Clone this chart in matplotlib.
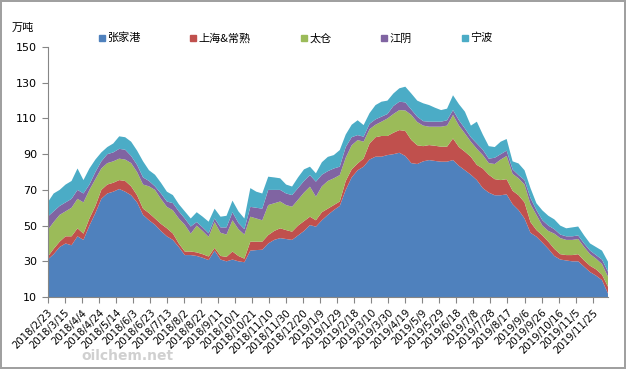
import numpy as np
import pandas as pd
import matplotlib
matplotlib.use('Agg')
import matplotlib.pyplot as plt
from matplotlib.lines import Line2D

plt.rcParams['font.family'] = ['DejaVu Sans', 'Noto Sans CJK SC']

# weekly inventory (万吨), 2018/2/23 .. 2019/12/13
dates = pd.date_range('2018-02-23', periods=95, freq='7D')

zhangjiagang = [31, 34, 38, 40, 39, 44, 42, 50, 57, 65,
                68, 69, 70.5, 69, 67, 63, 56, 53, 50.5, 47,
                44, 42, 38, 33.5, 33.5, 33, 32, 30.7, 36, 31,
                30, 31, 30, 29.5, 36, 36.3, 36.5, 40, 42, 43,
                42.5, 42, 44.5, 47, 50.3, 49.4, 53, 56, 58.7, 61,
                70, 77, 81, 83, 87, 88.6, 88.6, 89.5, 90, 90.8,
                89, 85, 84.5, 86, 86.7, 86.2, 85.8, 85.8, 86.7, 83.5,
                81, 78.5, 75.5, 71, 68.5, 67, 67, 67.5, 62, 58.7,
                54, 46, 43.8, 40.5, 37, 33, 31, 30.5, 30, 30,
                27, 24, 22, 19.5, 12]
shanghai = [1.5, 3, 3, 4, 5, 4.5, 3.5, 4, 4, 5,
            5, 5, 5, 6, 5, 4, 3.5, 4, 3.5, 4,
            4.5, 3.6, 2, 2, 2, 2, 2, 2, 1.5, 2,
            2.5, 4.5, 3, 2, 5, 4.7, 4.5, 4.7, 5, 5.5,
            5, 4.6, 5.5, 5.5, 4.7, 3.6, 4.5, 3.5, 2.8, 2.5,
            5, 4.5, 3.8, 4.6, 9, 10.9, 11.6, 10.7, 12, 12.7,
            14, 13, 10.5, 8.5, 8.4, 8.5, 8.4, 8.4, 12.1, 10.5,
            10.4, 10, 8.5, 11, 10, 9, 8.5, 8.5, 7.5, 8.3,
            9, 6, 3.7, 4, 4, 4, 3, 3, 3.5, 4,
            3.5, 3.5, 3.5, 3, 3.8]
taicang = [15, 15, 15, 14, 16, 16.5, 17.5, 16, 15, 12,
           12, 12, 12, 12, 13, 13, 13.5, 15, 16, 14,
           12, 13, 14, 15, 10, 15, 13, 11, 14.5, 13,
           12.5, 17.5, 15, 13.5, 14, 13, 12, 16.8, 15.5, 15,
           14, 14, 14.5, 16, 16.8, 13.2, 14.5, 15.5, 15, 14.8,
           13, 13.5, 13.1, 9.4, 8, 7, 8, 9.8, 10.5, 11.2,
           11.5, 14, 13, 11.5, 10.3, 10.7, 11.2, 11.8, 13.2, 12,
           10.2, 8.5, 9, 7.5, 6.5, 8.5, 11.5, 13, 9.5, 9.5,
           10, 10, 8.5, 5.5, 6, 8.5, 9, 8.5, 8.5, 8.5,
           7.5, 6.5, 6, 6, 5.6]
jiangyin = [7.5, 6, 5, 5, 5, 5, 5, 3, 4, 4,
            5, 5, 5.5, 5.5, 4, 4, 4, 3, 2, 3,
            3, 4, 4, 3.5, 4, 2, 2, 2, 2, 3,
            4, 4.5, 3.5, 3, 5.5, 6, 6.5, 8.5, 7.5, 6.5,
            6.5, 6.5, 6.5, 6.5, 6.5, 8.4, 6.5, 5.5, 5.5, 4.7,
            6, 4.5, 2.8, 2.8, 3, 3, 2.8, 2.5, 4.5, 4.7,
            4.5, 3, 3, 2.5, 2.8, 2.8, 2.8, 3, 2.7, 3,
            2.8, 2.5, 3, 3, 2.5, 3.5, 3, 3, 2.5, 1.8,
            2.5, 3.5, 2.7, 3, 3, 2.5, 2, 2, 2, 2,
            2, 2, 2, 2.5, 2.8]
ningbo = [8, 10, 9, 10, 10, 12, 7.5, 9, 7, 5,
          4, 5, 7, 7, 8, 8, 9, 6, 6.5, 6,
          5.5, 4.5, 4, 4, 4.5, 5.5, 6, 6.5, 5.5, 6,
          6.5, 6.5, 6.5, 6, 10.5, 9, 8.5, 7.4, 7, 6.5,
          5, 4.8, 6, 6.5, 4.7, 4.7, 7, 8, 7.5, 9.3,
          7, 7, 8.3, 6.5, 6, 8, 8.4, 7.5, 7, 7.5,
          8.8, 9, 9, 10, 9.3, 7.8, 6.5, 6.5, 8.3, 9,
          9.4, 6.5, 12.2, 8.5, 7, 6, 7, 6.5, 4.5, 6.5,
          5.5, 5.5, 3.8, 5.5, 5.5, 5.5, 5, 4.5, 5, 5,
          4.5, 4, 4.5, 5, 5.6]

names = ['张家港', '上海&常熟', '太仓', '江阴', '宁波']
colors = ['#4F81BD', '#C0504D', '#9BBB59', '#8064A2', '#4BACC6']

fig = plt.figure(figsize=(6.26, 3.69), dpi=100)
fig.patch.set_edgecolor('#a0a0a0')
fig.patch.set_linewidth(1.5)
ax = fig.add_axes([0.0762, 0.195, 0.895, 0.6775])

ax.stackplot(dates, zhangjiagang, shanghai, taicang, jiangyin, ningbo,
             colors=colors, linewidth=0)

ax.set_ylim(10, 150)
ax.set_yticks(np.arange(10, 151, 20))
ax.set_xlim(dates[0], dates[-1])

ticks = pd.date_range('2018-02-23', '2019-11-25', freq='20D')
ax.set_xticks(ticks)
ax.set_xticklabels([f'{d.year}/{d.month}/{d.day}' for d in ticks],
                   rotation=45, ha='right', va='top', rotation_mode='anchor',
                   fontsize=7.3)

for s in ['top', 'right']:
    ax.spines[s].set_visible(False)
for s in ['left', 'bottom']:
    ax.spines[s].set_color('#868686')
ax.tick_params(axis='both', colors='#868686', length=4, width=0.8,
               labelcolor='black')
ax.tick_params(axis='y', labelsize=8)

fig.text(0.037, 0.925, '万吨', fontsize=8, ha='center', va='center',
         family=['Noto Sans CJK SC', 'DejaVu Sans'])

handles = [Line2D([], [], marker='s', linestyle='none', markersize=4.5,
                  color=c) for c in colors]
fig.legend(handles, names, loc='center left', bbox_to_anchor=(0.141, 0.897),
           ncol=5, frameon=False, handlelength=0.6,
           handletextpad=0.2, columnspacing=4.45,
           prop={'family': ['Noto Sans CJK SC', 'DejaVu Sans'], 'size': 8})

fig.text(0.13, 0.035, 'oilchem.net', fontsize=10, color='#d0d0d0',
         fontweight='bold', ha='left', va='center')

fig.savefig('out.png', dpi=100)
